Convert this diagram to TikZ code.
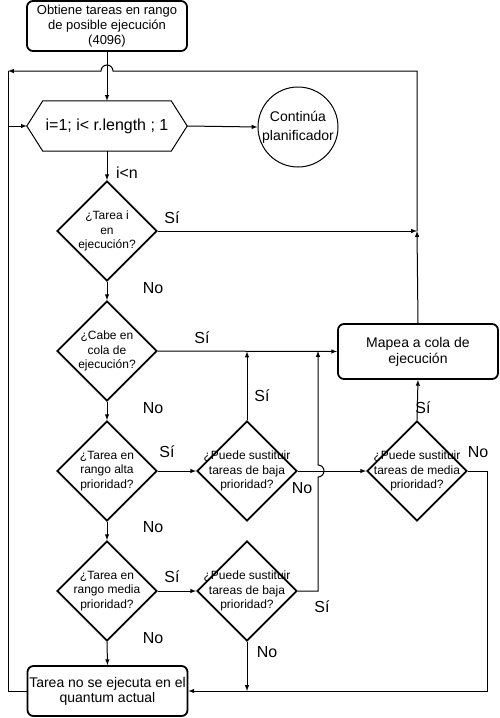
\documentclass[tikz,border=0pt]{standalone}
\usepackage{fontspec}
\setmainfont{Liberation Sans}
\usetikzlibrary{shapes.geometric}

\begin{document}
\begin{tikzpicture}[x=1pt,y=-1pt,
		caja/.style={draw, line width=1.8pt, rounded corners=6pt, minimum width=160pt, minimum height=50pt, inner sep=0pt, align=center},
		rombo/.style={draw, diamond, line width=1.8pt, minimum width=100pt, minimum height=100pt, inner sep=0pt},
		txtrombo/.style={align=center, inner sep=0pt, font=\fontsize{12}{14.4}\selectfont},
		etiq/.style={inner sep=0pt, font=\fontsize{16}{19}\selectfont},
		flecha/.style={-latex, line width=1pt}]
		\useasboundingbox (0,0) rectangle (499,718);
		%\draw[help lines] (0,0) grid (499,718);
		\node[caja, font=\fontsize{13}{15}\selectfont] (obtiene) at (107,26) {Obtiene tareas en rango\\de posible ejecución\\(4096)};
		\node[minimum width=160pt, minimum height=50pt, inner sep=0pt, font=\fontsize{16}{19}\selectfont] (bucle) at (107,126) {i=1; i< r.length ; 1};
		\draw[line width=1pt] (bucle.west) -- ([xshift=16pt]bucle.north west) -- ([xshift=-16pt]bucle.north east) -- (bucle.east) -- ([xshift=-16pt]bucle.south east) -- ([xshift=16pt]bucle.south west) -- cycle;
		\node[draw, circle, line width=1pt, minimum size=80pt, inner sep=0pt, align=center, font=\fontsize{14}{19}\selectfont] (continua) at (298,127) {Continúa\\planificador};
		%
		\node[rombo] (ejec) at (107,231) {};
		\node[txtrombo] (eject) at (ejec) {¿Tarea i\\en\\ejecución?};
		\node[rombo] (cabe) at (107,351) {};
		\node[txtrombo] (cabet) at (cabe) {¿Cabe en\\cola de\\ejecución?};
		\node[rombo] (alta) at (107,471) {};
		\node[txtrombo] (altat) at (alta) {¿Tarea en\\rango alta\\prioridad?};
		\node[rombo] (media) at (107,591) {};
		\node[txtrombo] (mediat) at (media) {¿Tarea en\\rango media\\prioridad?};
		\node[rombo] (sustalta) at (247,471) {};
		\node[txtrombo] (sustaltat) at (sustalta) {¿Puede sustituir\\tareas de baja\\prioridad?};
		\node[rombo] (sustbaja) at (247,591) {};
		\node[txtrombo] (sustbajat) at (sustbaja) {¿Puede sustituir\\tareas de baja\\prioridad?};
		\node[rombo] (sustmedia) at (417,471) {};
		\node[txtrombo] (sustmediat) at (sustmedia) {¿Puede sustituir\\tareas de media\\prioridad?};
		%
		\node[caja, minimum height=55pt, font=\fontsize{14}{16}\selectfont] (mapea) at (418,351.5) {Mapea a cola de\\ejecución};
		\node[caja, font=\fontsize{14}{15}\selectfont] (noejec) at (107.5,691) {Tarea no se ejecuta en el\\quantum actual};
		%
		\coordinate (izq) at (8,71);
		\coordinate (unionsi) at (417,231);
		\coordinate (derabajo) at (487,691);
		%
		\draw[flecha] (obtiene.south) -- (bucle.north);
		\draw[flecha] (bucle.east) -- (continua.west);
		\draw[flecha] (bucle.south) -- (ejec.north);
		\draw[flecha] (ejec.east) -- (unionsi);
		\draw[flecha] (mapea.north) -- (unionsi);
		\draw[flecha] (unionsi) -- (417,71) -- (113,71) arc[start angle=0, end angle=-180, radius=6] -- (izq);
		\draw[line width=1pt] (noejec.west) -| (izq);
		\draw[flecha] (izq |- bucle.west) -- (bucle.west);
		%
		\draw[flecha] (ejec.south) -- (cabe.north);
		\draw[flecha] (cabe.east) -- (mapea.west);
		\draw[flecha] (cabe.south) -- (alta.north);
		\draw[flecha] (alta.east) -- (sustalta.west);
		\draw[flecha] (sustalta.north) -- (sustalta.north |- mapea.west);
		\draw[flecha] (sustalta.east) -- (sustmedia.west);
		\draw[flecha] (sustmedia.north) -- (mapea.south);
		\draw[flecha] (sustmedia.east) -| (derabajo) -- (noejec.east);
		\draw[flecha] (alta.south) -- (media.north);
		\draw[flecha] (media.east) -- (sustbaja.west);
		\draw[flecha] (sustbaja.east) -- (318,591) -- (318,477) arc[start angle=90, end angle=-90, radius=6] -- (318,351);
		\draw[flecha] (sustbaja.south) -- (sustbaja.south |- derabajo);
		\draw[flecha] (media.south) -- (noejec.north);
		%
		\node[etiq] (lmenor) at (127,173) {i<n};
		\node[etiq] (lsi1) at (172,218) {Sí};
		\node[etiq] (lno1) at (153,288) {No};
		\node[etiq] (lsi2) at (202,338) {Sí};
		\node[etiq] (lno2) at (153,408) {No};
		\node[etiq] (lsi3) at (262,396) {Sí};
		\node[etiq] (lsi4) at (423,408) {Sí};
		\node[etiq] (lsi5) at (167,452) {Sí};
		\node[etiq] (lno3) at (302,488) {No};
		\node[etiq] (lno4) at (478,452) {No};
		\node[etiq] (lno5) at (153,527) {No};
		\node[etiq] (lsi6) at (172,577) {Sí};
		\node[etiq] (lsi7) at (322,607) {Sí};
		\node[etiq] (lno6) at (153,638) {No};
		\node[etiq] (lno7) at (267,652) {No};
	\end{tikzpicture}
\end{document}
